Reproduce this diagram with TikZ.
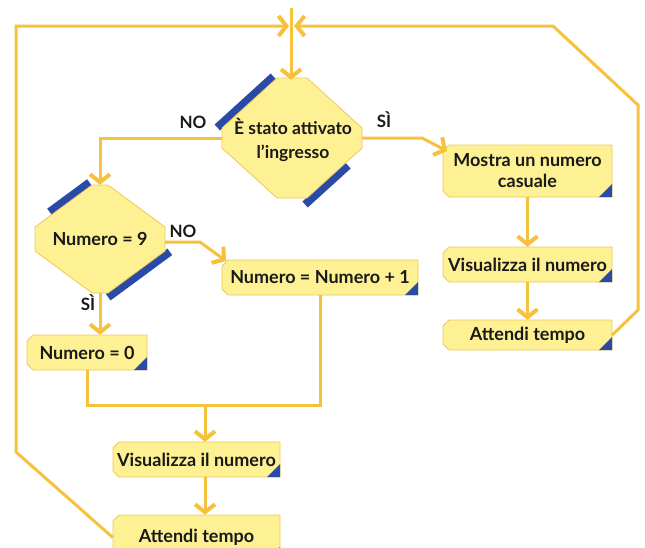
\documentclass[tikz,border=0pt]{standalone}
\usepackage{fontspec}
\setmainfont{Lato}
\usetikzlibrary{arrows.meta,calc}
\definecolor{lin}{RGB}{246,194,62}
\definecolor{fil}{RGB}{253,241,148}
\definecolor{edg}{RGB}{238,200,90}
\definecolor{blu}{RGB}{42,74,168}
\definecolor{ink}{RGB}{25,25,25}
\tikzset{
 conn/.style={draw=lin, line width=3pt, line join=miter},
 arr/.style={conn, -{Straight Barb[length=8pt,width=20pt,line width=4pt]}},
 shp/.style={fill=fil, draw=edg, line width=0.8pt},
 band/.style={draw=blu, line width=8pt},
 txt/.style={font=\bfseries\fontsize{18}{21}\selectfont, text=ink, align=center, inner sep=0pt},
 dtxt/.style={font=\bfseries\fontsize{17.5}{24}\selectfont, text=ink, align=center, inner sep=0pt},
 lbl/.style={font=\bfseries\fontsize{17}{18}\selectfont, text=ink, inner sep=0pt},
}
% process box: name, x1, y1, x2, y2, text
\newcommand\procbox[6]{%
 \path[shp] (#2+6,#3) -- (#4,#3) -- (#4,#5) -- (#2+6,#5) -- (#2,#5-6) -- (#2,#3+6) -- cycle;
 \fill[blu] (#4,#5-13) -- (#4,#5) -- (#4-13,#5) -- cycle;
 \node[txt, minimum width=#4-#2, minimum height=#5-#3] (#1) at ({(#2+#4)/2},{(#3+#5)/2}) {#6};}
\begin{document}
\begin{tikzpicture}[x=1pt,y=-1pt]
\useasboundingbox (0,0) rectangle (645,547);

% ---------- decision 1 ----------
\coordinate (a1) at (277,78);  \coordinate (a2) at (307,78);
\coordinate (a3) at (362,128); \coordinate (a4) at (362,148);
\coordinate (a5) at (307,198); \coordinate (a6) at (277,198);
\coordinate (a7) at (222,148); \coordinate (a8) at (222,128);
\draw[band] ($(a8)!-0.04!(a1)+(-2.5,-2.5)$) -- ($(a8)!0.98!(a1)+(-2.5,-2.5)$);
\draw[band] ($(a4)!0.3!(a5)+(2.5,2.5)$) -- ($(a4)!1.08!(a5)+(2.5,2.5)$);
\path[shp] (a1) -- (a2) -- (a3) -- (a4) -- (a5) -- (a6) -- (a7) -- (a8) -- cycle;
\node[dtxt, minimum width=140, minimum height=120] (d1) at (293,140) {È stato attivato\\l’ingresso};

% ---------- decision 2 ----------
\coordinate (c1) at (92,185);  \coordinate (c2) at (108,185);
\coordinate (c3) at (165,227); \coordinate (c4) at (165,251);
\coordinate (c5) at (108,293); \coordinate (c6) at (92,293);
\coordinate (c7) at (35,251);  \coordinate (c8) at (35,227);
\draw[band] ($(c8)!0.3!(c1)+(-2.5,-2.5)$) -- ($(c8)!1.0!(c1)+(-2.5,-2.5)$);
\draw[band] ($(c4)!-0.04!(c5)+(2.5,2.5)$) -- ($(c4)!1.04!(c5)+(2.5,2.5)$);
\path[shp] (c1) -- (c2) -- (c3) -- (c4) -- (c5) -- (c6) -- (c7) -- (c8) -- cycle;
\node[txt, minimum width=130, minimum height=108] (d2) at (100,239) {Numero = 9};

% ---------- process boxes ----------
\procbox{b1}{443}{145}{612}{197}{Mostra un numero\\casuale}
\procbox{b2}{443}{247}{612}{282}{Visualizza il numero}
\procbox{b3}{443}{320}{612}{350}{Attendi tempo}
\procbox{b4}{222}{260}{418}{295}{Numero = Numero + 1}
\procbox{b5}{27}{335}{147}{370}{Numero = 0}
\procbox{b6}{113}{442}{280}{477}{Visualizza il numero}
\procbox{b7}{113}{515}{280}{560}{Attendi tempo}

% ---------- junction at top ----------
\coordinate (top) at (291,8);
\coordinate (j) at (291,26);
\coordinate (jl) at (289,26);
\coordinate (jr) at (294,26);
\draw[arr] (top) -- (d1.north -| top);

% left loop
\coordinate (lb) at (16,452);
\coordinate (lt) at (16,26);
\draw[arr] (b7.west) -- (lb) -- (lt) -- (jl);
% right loop
\coordinate (rb) at (638,310);
\coordinate (rt) at (638,105);
\coordinate (rc) at (553,26);
\draw[arr] (b3.east) -- (rb) -- (rt) -- (rc) -- (jr);

% decision 1 branches
\coordinate (no1) at (100,138);
\draw[arr] (222,138) -- (no1) -- (d2.north);
\node[lbl] (lno1) at (193,122) {NO};
\coordinate (si1) at (422,138);
\draw[arr] (362,138) -- (si1) -- (447,151);
\node[lbl] (lsi1) at (384,120) {SÌ};

% right column
\draw[arr] (b1.south) -- (b2.north);
\draw[arr] (b2.south) -- (b3.north);

% decision 2 branches
\coordinate (no2) at (200,242);
\draw[arr] (165,242) -- (no2) -- (226,261);
\node[lbl] (lno2) at (183,231) {NO};
\draw[arr] (d2.south) -- (d2.south |- b5.north);
\node[lbl] (lsi2) at (88,303) {SÌ};

% merge
\coordinate (m) at (205,405);
\draw[conn] (b5.south) |- (b4.south |- m) -- (b4.south);
\draw[arr] (m) -- (m |- b6.north);
\draw[arr] (m |- b6.south) -- (m |- b7.north);
\end{tikzpicture}
\end{document}
